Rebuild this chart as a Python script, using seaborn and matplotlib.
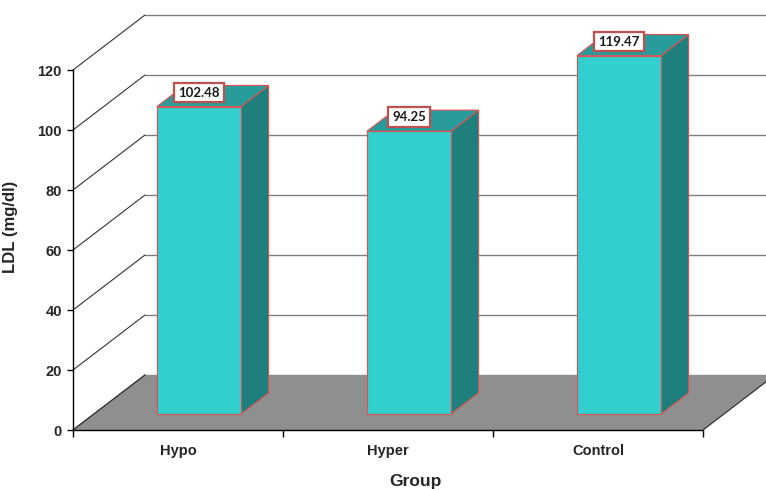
import matplotlib
matplotlib.use("Agg")
import matplotlib.pyplot as plt
import matplotlib.transforms as mtransforms
from matplotlib.patches import Polygon
import seaborn as sns
import pandas as pd

# --- data -------------------------------------------------------------
groups = ["Hypo", "Hyper", "Control"]
ldl_values = [102.48, 94.25, 119.47]
y_ticks = [0, 20, 40, 60, 80, 100, 120]

# --- style ------------------------------------------------------------
FRONT = "#33CECE"
TOP = "#279C9A"
SIDE = "#1E7F7C"
BAR_EDGE = "#E05050"
LABEL_EDGE = "#C0504D"
FLOOR = "#8F8F8F"
GRID = "#808080"
WALL_LINE = "#333333"

sns.set_theme(style="white")
plt.rcParams["font.family"] = ["Liberation Sans", "DejaVu Sans"]

fig = plt.figure(figsize=(7.66, 4.90), dpi=100)
ax = fig.add_axes([73 / 766, 60 / 490, 630 / 766, 360 / 490])

# full depth of the 3-D box expressed in data units
DEPTH_X = 72 / 210
DEPTH_Y = 55 / 3
# bars sit part-way into the box and have their own depth
BAR_FRONT = 0.29
BAR_DEPTH = 0.385

df = pd.DataFrame({"Group": groups, "LDL": ldl_values})
sns.barplot(data=df, x="Group", y="LDL", order=groups, color=FRONT,
            saturation=1, width=0.4, edgecolor=BAR_EDGE, linewidth=0.8,
            errorbar=None, ax=ax, zorder=6)

n = len(groups)
x_left, x_right = -0.5, n - 0.5
ax.set_xlim(x_left, x_right)
ax.set_ylim(0, 120)

# back wall gridlines and left wall diagonals
for v in y_ticks:
    ax.plot([x_left + DEPTH_X, x_right + DEPTH_X + 0.05], [v + DEPTH_Y] * 2,
            color=GRID, lw=1.0, zorder=1, clip_on=False)
    ax.plot([x_left, x_left + DEPTH_X], [v, v + DEPTH_Y],
            color=WALL_LINE, lw=0.8, zorder=1, clip_on=False)

# floor
floor = Polygon([(x_left, 0), (x_left + DEPTH_X, DEPTH_Y),
                 (x_right + DEPTH_X, DEPTH_Y), (x_right, 0)],
                closed=True, facecolor=FLOOR, edgecolor="none",
                zorder=2, clip_on=False)
ax.add_patch(floor)
ax.plot([x_right, x_right + DEPTH_X], [0, DEPTH_Y], color=WALL_LINE,
        lw=0.9, zorder=3, clip_on=False)
ax.plot([x_left, x_left + DEPTH_X], [0, DEPTH_Y], color=WALL_LINE,
        lw=0.9, zorder=3, clip_on=False)

# push the front faces into the box and add top / side faces
dx0, dy0 = BAR_FRONT * DEPTH_X, BAR_FRONT * DEPTH_Y
ddx, ddy = BAR_DEPTH * DEPTH_X, BAR_DEPTH * DEPTH_Y
shift = mtransforms.Affine2D().translate(dx0, dy0) + ax.transData
for patch, value in zip(ax.patches[:n], ldl_values):
    patch.set_transform(shift)
    patch.set_clip_on(False)
    x0 = patch.get_x() + dx0
    y0 = patch.get_y() + dy0
    w = patch.get_width()
    h = patch.get_height()
    side = Polygon([(x0 + w, y0), (x0 + w + ddx, y0 + ddy),
                    (x0 + w + ddx, y0 + h + ddy), (x0 + w, y0 + h)],
                   closed=True, facecolor=SIDE, edgecolor=BAR_EDGE,
                   lw=0.8, zorder=5, clip_on=False)
    top = Polygon([(x0, y0 + h), (x0 + w, y0 + h),
                   (x0 + w + ddx, y0 + h + ddy), (x0 + ddx, y0 + h + ddy)],
                  closed=True, facecolor=TOP, edgecolor=BAR_EDGE,
                  lw=0.8, zorder=5, clip_on=False)
    ax.add_patch(side)
    ax.add_patch(top)
    ax.text(x0 + w / 2, y0 + h + 4.7, f"{value:.2f}", ha="center",
            va="center", fontsize=9.5, fontweight="bold",
            family=["Lato", "DejaVu Sans"], color="#1a1a1a", zorder=8,
            bbox=dict(boxstyle="square,pad=0.3", facecolor="white",
                      edgecolor=LABEL_EDGE, linewidth=1.6))

# axes, ticks and labels
for s in ["top", "right"]:
    ax.spines[s].set_visible(False)
for s in ["left", "bottom"]:
    ax.spines[s].set_color("black")
    ax.spines[s].set_linewidth(1.0)
    ax.spines[s].set_zorder(7)

ax.set_yticks(y_ticks)
ax.set_yticklabels([str(t) for t in y_ticks], fontsize=10.5, fontweight="bold")
ax.tick_params(axis="y", direction="out", length=4, width=1, color="black",
               pad=4, left=True)
ax.set_xticks(range(n))
ax.set_xticklabels(groups, fontsize=10.5, fontweight="bold")
ax.tick_params(axis="x", which="major", length=0, pad=10)
ax.set_xticks([x_left + i for i in range(n + 1)], minor=True)
ax.tick_params(axis="x", which="minor", direction="out", length=5, width=1,
               color="black", bottom=True)

ax.set_xlabel("Group", fontsize=12.5, fontweight="bold")
ax.set_ylabel("LDL (mg/dl)", fontsize=12, fontweight="bold")
ax.xaxis.set_label_coords(0.543, -0.122)
ax.yaxis.set_label_coords(-0.087, 0.564)
ax.grid(False)

fig.savefig("out.png", dpi=100, facecolor="white")
